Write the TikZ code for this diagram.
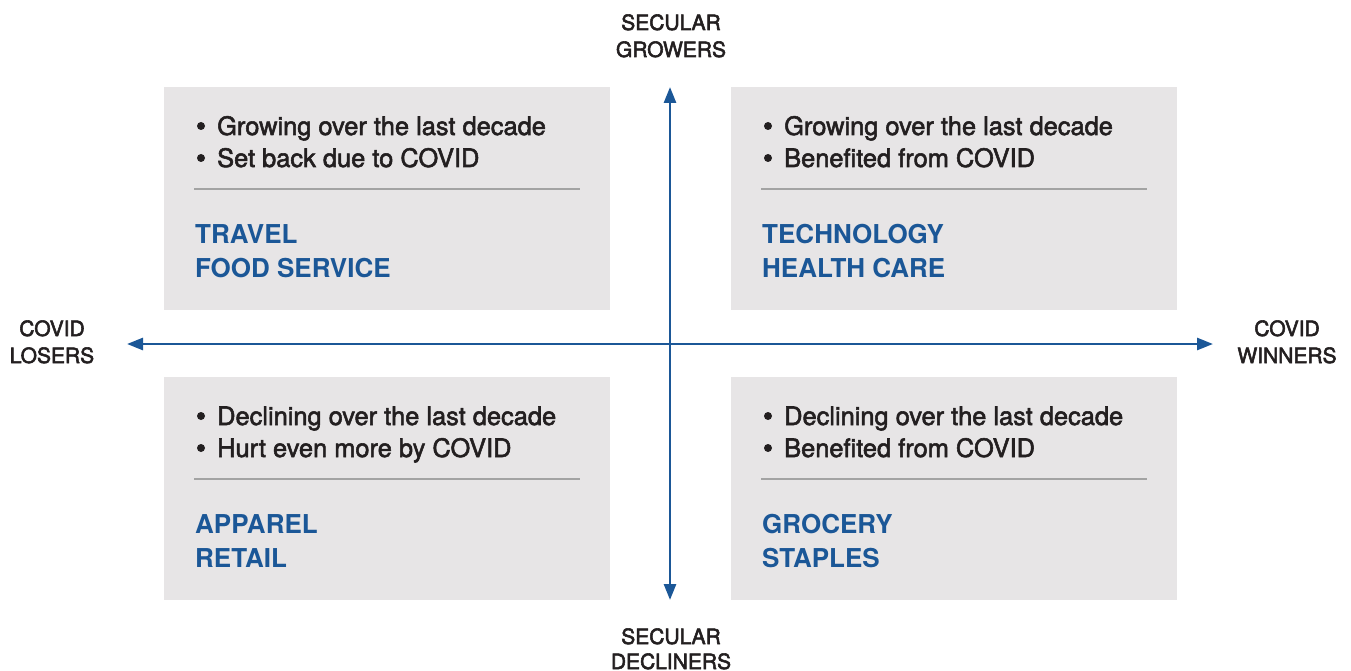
\documentclass[tikz,border=0pt]{standalone}
\usepackage{fontspec}
\setmainfont{TeX Gyre Heros}
\newcommand\heavytxt[1]{\special{pdf:literal direct 2 Tr 0.55 w}#1\special{pdf:literal direct 0 Tr}}
\usetikzlibrary{arrows.meta}
\definecolor{qblue}{HTML}{1B5797}
\definecolor{qgrey}{HTML}{E7E5E6}
\definecolor{qtext}{HTML}{231F20}
\definecolor{qrule}{HTML}{A3A3A3}
\begin{document}
\begin{tikzpicture}[x=1pt,y=-1pt,
  quad/.style={fill=qgrey, draw=none, inner sep=0, anchor=north west, minimum width=446pt, minimum height=223pt},
  bul/.style={anchor=base west, inner sep=0, text=qtext, font=\fontsize{25.4}{32}\selectfont},
  dot/.style={circle, fill=qtext, draw=none, inner sep=0, minimum size=8pt},
  cat/.style={anchor=base west, inner sep=0, text=qblue, font=\fontsize{26}{34}\selectfont\bfseries},
  axl/.style={anchor=base, inner sep=0, text=qtext, font=\fontsize{21}{27}\selectfont},
  sep/.style={qrule, line width=1.1pt},
  axis/.style={qblue, line width=2.7pt, {Triangle[length=16pt,width=12pt]}-{Triangle[length=16pt,width=12pt]}}
]
\useasboundingbox (0,0) rectangle (1351,671);

% quadrants
\node[quad] (tl) at (164,87) {};
\node[quad] (tr) at (731,87) {};
\node[quad] (bl) at (164,377) {};
\node[quad] (br) at (731,377) {};

% top left
\node[dot] (tlb1) at (201,126) {};
\node[bul] (tlt1) at (217,135) {\heavytxt{Growing over the last decade}};
\node[dot] (tlb2) at (201,158) {};
\node[bul] (tlt2) at (217,167) {\heavytxt{Set back due to COVID}};
\coordinate (tlsa) at (194,189); \coordinate (tlsb) at (580,189);
\draw[sep] (tlsa) -- (tlsb);
\node[cat] (tlc1) at (195,243) {TRAVEL};
\node[cat] (tlc2) at (195,277) {FOOD SERVICE};

% top right
\node[dot] (trb1) at (768,126) {};
\node[bul] (trt1) at (784,135) {\heavytxt{Growing over the last decade}};
\node[dot] (trb2) at (768,158) {};
\node[bul] (trt2) at (784,167) {\heavytxt{Benefited from COVID}};
\coordinate (trsa) at (761,189); \coordinate (trsb) at (1147,189);
\draw[sep] (trsa) -- (trsb);
\node[cat] (trc1) at (762,243) {TECHNOLOGY};
\node[cat] (trc2) at (762,277) {HEALTH CARE};

% bottom left
\node[dot] (blb1) at (201,416) {};
\node[bul] (blt1) at (217,425) {\heavytxt{Declining over the last decade}};
\node[dot] (blb2) at (201,448) {};
\node[bul] (blt2) at (217,457) {\heavytxt{Hurt even more by COVID}};
\coordinate (blsa) at (194,479); \coordinate (blsb) at (580,479);
\draw[sep] (blsa) -- (blsb);
\node[cat] (blc1) at (195,533) {APPAREL};
\node[cat] (blc2) at (195,567) {RETAIL};

% bottom right
\node[dot] (brb1) at (768,416) {};
\node[bul] (brt1) at (784,425) {\heavytxt{Declining over the last decade}};
\node[dot] (brb2) at (768,448) {};
\node[bul] (brt2) at (784,457) {\heavytxt{Benefited from COVID}};
\coordinate (brsa) at (761,479); \coordinate (brsb) at (1147,479);
\draw[sep] (brsa) -- (brsb);
\node[cat] (brc1) at (762,533) {GROCERY};
\node[cat] (brc2) at (762,567) {STAPLES};

% axes
\coordinate (vtop) at (670,87);
\coordinate (vbot) at (670,600);
\coordinate (hlef) at (127,344);
\coordinate (hrig) at (1213,344);
\draw[axis] (vtop) -- (vbot);
\draw[axis] (hlef) -- (hrig);

% axis labels
\node[axl] (sg1) at (671,30) {\heavytxt{SECULAR}};
\node[axl] (sg2) at (671,57) {\heavytxt{GROWERS}};
\node[axl] (sd1) at (671,644) {\heavytxt{SECULAR}};
\node[axl] (sd2) at (671,669) {\heavytxt{DECLINERS}};
\node[axl] (cl1) at (52,336) {\heavytxt{COVID}};
\node[axl] (cl2) at (52,363) {\heavytxt{LOSERS}};
\node[axl] (cw1) at (1287,336) {\heavytxt{COVID}};
\node[axl] (cw2) at (1287,363) {\heavytxt{WINNERS}};
\end{tikzpicture}
\end{document}
